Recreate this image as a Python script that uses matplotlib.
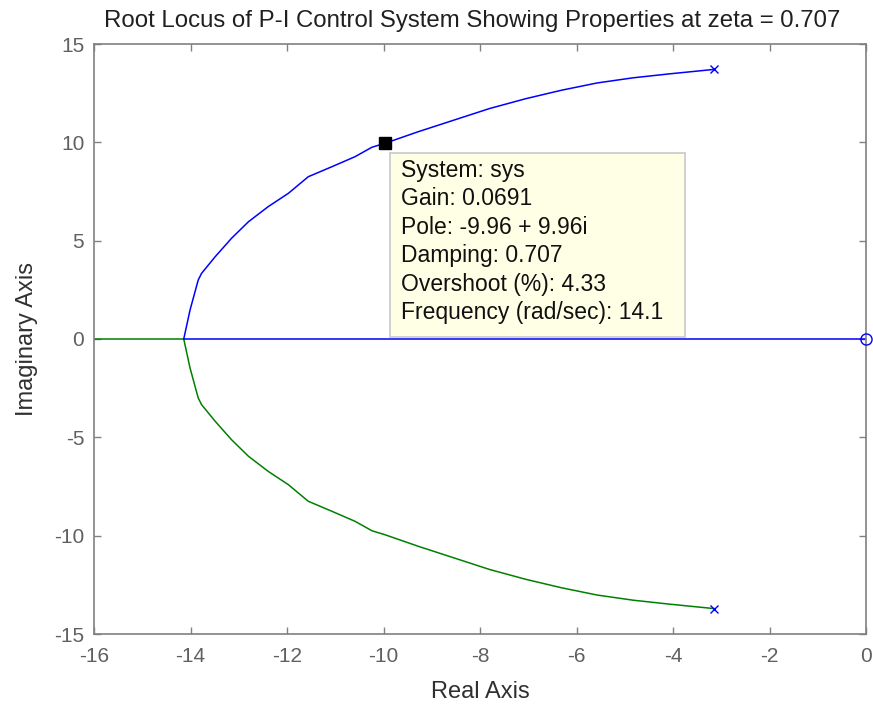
import matplotlib
matplotlib.use("Agg")
import matplotlib.pyplot as plt
from matplotlib.patches import Rectangle

# ---- data ----
upper_re = [-14.14, -14.01, -13.84, -13.77, -13.49, -13.15, -12.80, -12.39, -11.97, -11.56,
            -11.07, -10.59, -10.24, -9.96, -9.28, -8.54, -7.80, -7.05, -6.31, -5.57,
            -4.83, -4.08, -3.14]
upper_im = [0.00, 1.47, 3.00, 3.34, 4.18, 5.12, 5.96, 6.73, 7.41, 8.25,
            8.76, 9.27, 9.75, 9.96, 10.54, 11.13, 11.72, 12.22, 12.65, 13.02,
            13.28, 13.48, 13.71]
lower_re = [-14.14, -14.01, -13.84, -13.77, -13.49, -13.15, -12.80, -12.39, -11.97, -11.56,
            -11.07, -10.59, -10.24, -9.96, -9.28, -8.54, -7.80, -7.05, -6.31, -5.57,
            -4.83, -4.08, -3.14]
lower_im = [0.00, -1.47, -3.00, -3.34, -4.18, -5.12, -5.96, -6.73, -7.41, -8.25,
            -8.76, -9.27, -9.75, -9.96, -10.54, -11.13, -11.72, -12.22, -12.65, -13.02,
            -13.28, -13.48, -13.71]
real_blue_re = [-14.14, 0.0]
real_green_re = [-17.0, -14.14]
poles_re = [-3.14, -3.14]
poles_im = [13.71, -13.71]
zeros_re = [0.0]
zeros_im = [0.0]
tip_re, tip_im = -9.96, 9.96
tip_lines = ["System: sys", "Gain: 0.0691", "Pole: -9.96 + 9.96i", "Damping: 0.707",
             "Overshoot (%): 4.33", "Frequency (rad/sec): 14.1"]
xticks = [-16, -14, -12, -10, -8, -6, -4, -2, 0]
yticks = [-15, -10, -5, 0, 5, 10, 15]

plt.rcParams['font.family'] = ['Liberation Sans', 'DejaVu Sans']
plt.rcParams['axes.unicode_minus'] = False

W, H = 873, 705
fig = plt.figure(figsize=(W / 100, H / 100), dpi=100)
L, R, T, B = 94, 866, 44, 634
ax = fig.add_axes([L / W, 1 - B / H, (R - L) / W, (B - T) / H])

blue = '#0000FF'
green = '#008000'
lw = 1.1
ax.plot(real_green_re, [0, 0], color=green, lw=lw)
ax.plot(lower_re, lower_im, color=green, lw=lw)
ax.plot(real_blue_re, [0, 0], color=blue, lw=lw)
ax.plot(upper_re, upper_im, color=blue, lw=lw)
ax.plot(poles_re, poles_im, 'x', color=blue, ms=6, mew=1.0)
ax.plot(zeros_re, zeros_im, 'o', mfc='none', mec=blue, ms=8, mew=1.0, clip_on=False, zorder=5)
ax.plot([tip_re], [tip_im], 's', color='black', ms=9, zorder=6)

ax.set_xlim(-16, 0)
ax.set_ylim(-15, 15)
ax.set_xticks(xticks)
ax.set_yticks(yticks)
spine_c = '#808080'
for s in ax.spines.values():
    s.set_color(spine_c)
    s.set_linewidth(1.2)
ax.tick_params(direction='in', length=5, width=1.0, color=spine_c, top=True, right=True,
               labelsize=15, labelcolor='#606060')
ax.tick_params(axis='x', pad=9)
ax.tick_params(axis='y', pad=7)

ax.set_title("Root Locus of P-I Control System Showing Properties at zeta = 0.707",
             fontsize=17.3, color='#202020', pad=12, x=0.49)
ax.set_xlabel("Real Axis", fontsize=17, color='#303030', labelpad=11)
ax.set_ylabel("Imaginary Axis", fontsize=17, color='#303030')
ax.yaxis.set_label_coords(-0.073, 0.5)

# datatip box (axes-fraction placement)
bx0 = (390 - L) / (R - L)
bx1 = (685 - L) / (R - L)
by1 = (B - 153) / (B - T)
by0 = (B - 337) / (B - T)
ax.add_patch(Rectangle((bx0, by0), bx1 - bx0, by1 - by0, transform=ax.transAxes,
                       facecolor='#FFFFE6', edgecolor='#C8C8C8', lw=1.2, zorder=7))
tx = (401 - L) / (R - L)
for i, line in enumerate(tip_lines):
    ty = (B - 159 - i * 28.4) / (B - T)
    ax.text(tx, ty, line, transform=ax.transAxes, fontsize=16.5, color='#101010',
            va='top', ha='left', zorder=8)

fig.savefig("out.png", dpi=100)
